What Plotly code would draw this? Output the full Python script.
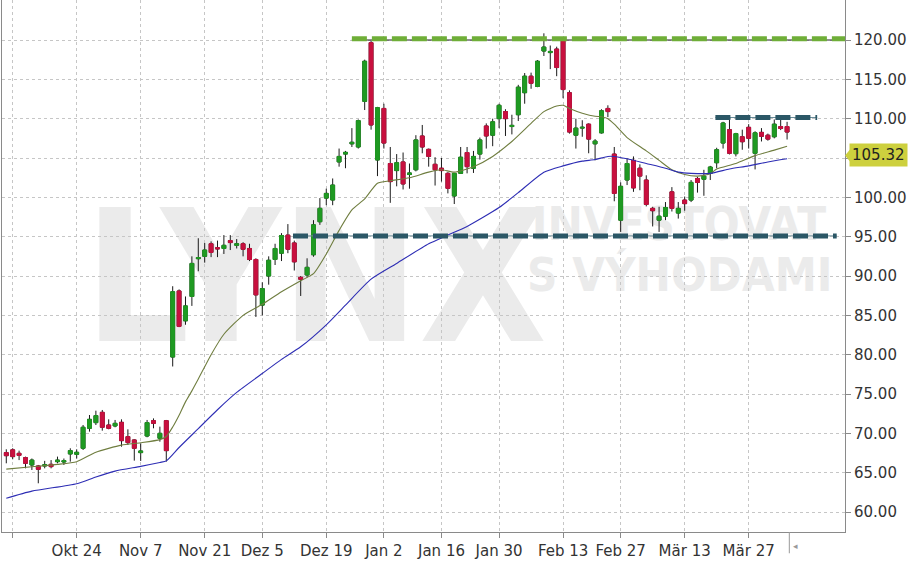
import plotly.graph_objects as go
import pandas as pd

# ---------------- data ----------------
HOLIDAYS = ['2022-11-24', '2022-12-26', '2023-01-02', '2023-01-16', '2023-02-20']
DATES = [d.strftime('%Y-%m-%d') for d in pd.bdate_range('2022-10-07', '2023-04-04')
         if d.strftime('%Y-%m-%d') not in HOLIDAYS]

OPEN = [67.55, 67.9, 67.46, 66.91, 65.98, 65.85, 65.85, 66.06, 66.4, 66.36,
        67.38, 67.33, 68.1, 70.64, 71.36, 72.67, 71.06, 70.94, 71.4, 69.58,
        69.16, 67.55, 69.66, 71.61, 69.37, 71.61, 79.7, 88.1, 84.3, 87.4,
        92.2, 92.5, 94.1, 93.6, 93.5, 94.5, 93.9, 94.1, 93.5, 92.1,
        86.3, 90.0, 92.1, 92.9, 95.2, 94.2, 89.83, 90.13, 92.7, 96.9,
        99.9, 99.66, 104.5, 105.5, 106.8, 106.4, 112.2, 119.66, 104.75, 111.3,
        104.3, 103.4, 104.5, 102.9, 103.5, 107.8, 106.1, 104.2, 103.7, 103.05,
        100.17, 103.05, 105.7, 103.7, 105.5, 109.07, 107.9, 110.0, 110.9, 109.0,
        110.5, 113.3, 115.4, 114.1, 118.6, 118.4, 118.85, 119.9, 113.3, 107.9,
        108.8, 109.3, 106.8, 108.2, 111.3, 105.5, 97.1, 102.2, 104.7, 103.7,
        102.2, 98.6, 97.1, 97.6, 100.7, 98.0, 99.65, 99.65, 102.4, 102.3,
        103.05, 104.4, 106.9, 108.6, 105.55, 107.7, 108.9, 105.6, 108.26, 107.9,
        107.7, 109.0, 109.0]
HIGH = [67.97, 68.1, 67.8, 67.04, 66.8, 65.98, 66.5, 66.6, 67.04, 66.8,
        68.1, 67.97, 71.06, 72.33, 72.88, 72.97, 71.78, 71.7, 71.78, 70.51,
        69.24, 68.73, 71.7, 71.9, 70.85, 71.7, 88.7, 88.3, 87.4, 92.5,
        94.8, 94.2, 94.4, 94.5, 95.2, 95.2, 94.7, 94.3, 94.1, 92.25,
        89.2, 92.5, 94.1, 95.45, 96.6, 94.5, 90.0, 92.25, 97.1, 99.9,
        101.1, 102.4, 106.2, 105.9, 108.8, 109.9, 117.5, 119.9, 111.5, 111.9,
        106.4, 105.5, 105.7, 104.3, 107.9, 109.2, 106.2, 105.1, 105.0, 103.2,
        103.1, 106.4, 106.4, 105.9, 107.6, 109.4, 110.0, 111.9, 111.2, 110.5,
        114.3, 115.8, 115.85, 117.45, 120.85, 119.3, 119.15, 120.2, 113.6, 110.0,
        109.8, 109.4, 107.4, 111.2, 111.7, 106.4, 101.9, 104.95, 105.2, 104.2,
        102.8, 98.8, 98.8, 99.4, 101.3, 99.4, 100.1, 102.2, 102.6, 103.5,
        104.0, 106.3, 109.6, 109.85, 108.2, 108.6, 109.3, 108.4, 108.8, 108.1,
        109.9, 109.9, 109.6]
LOW = [66.19, 66.7, 66.6, 65.55, 65.34, 63.65, 65.55, 65.55, 66.19, 65.98,
       66.4, 66.8, 67.88, 70.22, 71.06, 70.34, 70.51, 70.77, 68.3, 68.52,
       66.53, 66.49, 69.5, 70.64, 68.94, 66.4, 78.5, 83.5, 83.8, 86.2,
       90.6, 91.7, 92.4, 92.4, 92.8, 93.3, 93.5, 92.5, 91.9, 84.8,
       85.0, 88.9, 91.4, 91.9, 92.9, 90.7, 87.46, 89.83, 92.45, 96.5,
       99.0, 99.0, 103.9, 103.7, 106.4, 106.2, 111.1, 108.6, 102.7, 106.2,
       99.3, 101.4, 101.0, 101.1, 103.3, 105.6, 103.9, 101.5, 102.0, 100.5,
       99.15, 103.0, 103.05, 103.1, 104.8, 106.2, 106.5, 108.8, 107.8, 108.0,
       109.7, 111.9, 113.8, 114.0, 117.97, 116.3, 115.4, 112.6, 108.1, 106.2,
       107.7, 105.6, 104.7, 108.1, 110.2, 99.5, 95.6, 101.56, 100.7, 100.9,
       98.85, 96.3, 95.6, 97.1, 98.2, 97.3, 98.3, 99.4, 100.6, 100.2,
       102.2, 103.7, 106.2, 105.45, 105.2, 106.05, 106.2, 103.55, 107.1, 107.2,
       107.5, 108.55, 107.35]
CLOSE = [67.16, 67.04, 67.2, 66.19, 66.6, 65.43, 66.0, 65.77, 66.6, 66.53,
         67.8, 67.59, 70.77, 71.78, 72.25, 70.77, 70.64, 71.27, 69.07, 68.82,
         68.1, 67.76, 71.36, 71.27, 70.0, 67.8, 88.0, 83.6, 86.2, 91.6,
         92.35, 93.3, 93.0, 93.45, 93.9, 94.25, 94.1, 93.4, 92.1, 87.6,
         88.4, 92.0, 93.5, 95.15, 93.4, 91.8, 89.58, 91.1, 96.5, 98.6,
         100.5, 101.56, 105.2, 105.72, 107.0, 109.75, 117.3, 109.2, 111.4, 106.9,
         102.0, 104.4, 101.7, 103.1, 107.3, 106.4, 105.2, 103.5, 103.4, 101.14,
         103.05, 105.1, 103.9, 105.2, 107.3, 107.8, 109.6, 111.7, 110.0, 109.15,
         114.0, 115.4, 114.5, 117.3, 119.1, 118.55, 116.5, 113.7, 108.3, 108.8,
         108.9, 107.4, 107.15, 111.0, 110.9, 100.5, 101.4, 104.3, 101.2, 102.7,
         99.1, 98.3, 97.6, 98.7, 98.6, 98.6, 99.2, 101.9, 101.9, 102.7,
         103.85, 106.05, 109.45, 105.6, 108.1, 107.07, 107.5, 108.2, 107.75, 107.4,
         109.3, 108.75, 108.3]

# moving averages (trading-day number, value)
MA20_DAY = [0, 4, 8, 11, 14, 18, 21, 24, 25, 26, 27, 28, 29, 30, 32, 34, 37, 40, 43, 46,
            48, 50, 52, 54, 56, 58, 60, 63, 66, 68, 70, 73, 76, 79, 82, 84, 86, 87, 88, 90,
            92, 93, 94, 95, 97, 100, 102, 104, 106, 108, 110, 111, 114, 117, 120, 122]
MA20_VAL = [65.45, 65.75, 66.05, 66.4, 67.6, 68.5, 68.8, 69.2, 69.6, 70.8, 72.3, 74.0, 75.4,
            76.9, 80.0, 82.6, 85.0, 86.4, 88.0, 89.4, 90.3, 92.8, 95.8, 98.4, 99.8, 101.8,
            102.1, 102.5, 103.2, 103.5, 103.2, 103.9, 105.2, 107.1, 109.4, 110.9, 111.6,
            111.7, 111.3, 110.7, 110.3, 110.25, 110.0, 109.3, 107.6, 105.9, 104.7, 103.5,
            102.9, 102.7, 103.0, 103.6, 104.3, 105.3, 106.0, 106.5]
MA50_DAY = [0, 4, 11, 14, 17, 21, 24, 25, 27, 30, 33, 36, 40, 43, 46, 50, 53, 57, 61, 66,
            69, 72, 77, 80, 84, 87, 90, 92, 94, 95, 97, 100, 103, 105, 107, 110, 113, 116,
            119, 122]
MA50_VAL = [61.75, 62.65, 63.6, 64.45, 65.2, 65.8, 66.3, 66.5, 68.2, 70.6, 73.0, 75.2,
            77.6, 79.4, 81.0, 83.8, 86.3, 89.6, 91.6, 94.1, 95.2, 96.3, 98.7, 100.6, 103.2,
            104.0, 104.6, 104.8, 105.2, 105.2, 104.9, 104.3, 103.7, 103.2, 103.05, 103.05,
            103.6, 104.0, 104.5, 104.9]

TICK_DATES = ['2022-10-10', '2022-10-24', '2022-11-07', '2022-11-21', '2022-12-05',
              '2022-12-19', '2023-01-03', '2023-01-17', '2023-01-30', '2023-02-13',
              '2023-02-27', '2023-03-13', '2023-03-27']
TICK_TEXT = ['', 'Okt 24', 'Nov 7', 'Nov 21', 'Dez 5', 'Dez 19', 'Jan 2', 'Jan 16',
             'Jan 30', 'Feb 13', 'Feb 27', 'Mär 13', 'Mär 27']
Y_TICKS = [60, 65, 70, 75, 80, 85, 90, 95, 100, 105, 110, 115, 120]

# drawn support / resistance levels (value, from trading day, to trading day)
LEVEL_VALUES = [120.15, 95.1, 110.15]
LEVEL_FROM = [54.0, 44.8, 110.8]
LEVEL_TO = [None, 129.75, 126.7]
LEVEL_KIND = ['green', 'teal', 'teal']
LAST_PRICE = 105.32

# ---------------- styling ----------------
GREEN = '#1f9a22'
RED = '#c8103f'
WICK = '#1a1a1a'
OLIVE = '#6f7d3f'
BLUE = '#2d2db4'
LVL_GREEN = '#6fae38'
LVL_TEAL = '#2b5766'
GRID = '#c6c6c6'
AXIS = '#8a8a8a'
TAG = '#cdd03e'
X_RANGE = [-0.67, 131.05]
Y_RANGE = [57.458, 125.085]
FONT = 'DejaVu Sans, Verdana, sans-serif'
WM_FONT = 'Liberation Sans Narrow, Arial Narrow, DejaVu Sans Condensed, sans-serif'

# the price tag hides the 105.00 label, as in the original
Y_TEXT = ['' if abs(v - LAST_PRICE) < 2 else f'{v:.2f}' for v in Y_TICKS]

body_hi = [max(o, c) for o, c in zip(OPEN, CLOSE)]
body_lo = [min(o, c) for o, c in zip(OPEN, CLOSE)]

fig = go.Figure()
# wicks (black)
fig.add_trace(go.Candlestick(
    x=DATES, open=OPEN, high=HIGH, low=LOW, close=CLOSE,
    increasing=dict(line=dict(color=WICK, width=1), fillcolor=WICK),
    decreasing=dict(line=dict(color=WICK, width=1), fillcolor=WICK),
    showlegend=False, hoverinfo='skip'))
# coloured bodies
fig.add_trace(go.Candlestick(
    x=DATES, open=OPEN, high=body_hi, low=body_lo, close=CLOSE,
    increasing=dict(line=dict(color=GREEN, width=1), fillcolor=GREEN),
    decreasing=dict(line=dict(color=RED, width=1), fillcolor=RED),
    showlegend=False, hoverinfo='skip'))
fig.add_trace(go.Scatter(x=[DATES[i] for i in MA20_DAY], y=MA20_VAL, mode='lines',
                         line=dict(color=OLIVE, width=1.1, shape='spline', smoothing=0.6),
                         showlegend=False, hoverinfo='skip'))
fig.add_trace(go.Scatter(x=[DATES[i] for i in MA50_DAY], y=MA50_VAL, mode='lines',
                         line=dict(color=BLUE, width=1.1, shape='spline', smoothing=0.6),
                         showlegend=False, hoverinfo='skip'))

shapes = []
# watermark
def wm(text, cx, cy, size):
    return dict(type='rect', xref='paper', yref='paper', x0=cx - 0.2, x1=cx + 0.2,
                y0=cy - 0.1, y1=cy + 0.1, line=dict(width=0), fillcolor='rgba(0,0,0,0)',
                layer='below',
                label=dict(text=text, textposition='middle center',
                           font=dict(family=WM_FONT, size=size, color='#ebebeb', weight='bold')))
shapes.append(wm('LYNX', 0.372, 0.503, 184))
shapes.append(wm('INVESTOVAT', 0.803, 0.586, 47))
shapes.append(wm('S VÝHODAMI', 0.804, 0.49, 47))

for val, x0, x1, kind in zip(LEVEL_VALUES, LEVEL_FROM, LEVEL_TO, LEVEL_KIND):
    end = X_RANGE[1] if x1 is None else x1
    if kind == 'green':
        shapes.append(dict(type='line', xref='x', yref='y', x0=x0, x1=end, y0=val - 0.15,
                           y1=val - 0.15, line=dict(color='#222222', width=1)))
        shapes.append(dict(type='line', xref='x', yref='y', x0=x0, x1=end, y0=val, y1=val,
                           line=dict(color=LVL_GREEN, width=5, dash='15px,5px')))
    else:
        shapes.append(dict(type='line', xref='x', yref='y', x0=x0, x1=end, y0=val, y1=val,
                           line=dict(color='#6a8c98', width=1)))
        shapes.append(dict(type='line', xref='x', yref='y', x0=x0, x1=end, y0=val, y1=val,
                           line=dict(color=LVL_TEAL, width=5, dash='15px,5px')))

# last price tag pointer
shapes.append(dict(type='path', xref='paper', yref='y', xsizemode='pixel', ysizemode='pixel',
                   xanchor=1, yanchor=LAST_PRICE, path='M 0 0 L 5 6 L 5 -6 Z',
                   fillcolor=TAG, line=dict(width=0)))
# last candle marker below axis
last_day = len(DATES) - 1 + 0.35
shapes.append(dict(type='line', xref='x', yref='paper', x0=last_day, x1=last_day,
                   y0=0, y1=-0.04, line=dict(color='#9a9a9a', width=1)))

annotations = [
    dict(xref='paper', yref='y', x=1, y=LAST_PRICE, xanchor='left', yanchor='middle',
         xshift=4, text=f'{LAST_PRICE:.2f}', showarrow=False, bgcolor=TAG,
         borderpad=2, font=dict(family=FONT, size=15, color='#222222')),
    dict(xref='x', yref='paper', x=last_day, y=-0.027, xanchor='left', yanchor='middle',
         xshift=2, text='◂', showarrow=False, font=dict(family=FONT, size=9, color='#9a9a9a')),
]

fig.update_layout(
    width=910, height=561,
    margin=dict(l=2, r=65, t=0, b=29),
    paper_bgcolor='white', plot_bgcolor='white',
    showlegend=False, boxgap=0.4, boxgroupgap=0,
    shapes=shapes, annotations=annotations,
    xaxis=dict(type='category', range=X_RANGE, tickvals=TICK_DATES, ticktext=TICK_TEXT,
               showgrid=True, gridcolor=GRID, griddash='3px,3px', gridwidth=1,
               ticks='outside', ticklen=5, tickcolor=AXIS, showline=True, linecolor=AXIS,
               rangeslider=dict(visible=False), zeroline=False,
               tickfont=dict(family=FONT, size=15, color='#333333')),
    yaxis=dict(side='right', range=Y_RANGE, tickvals=Y_TICKS, ticktext=Y_TEXT,
               showgrid=True, gridcolor=GRID, griddash='3px,3px', gridwidth=1,
               ticks='outside', ticklen=5, tickcolor=AXIS, showline=True, linecolor=AXIS,
               mirror=True, zeroline=False,
               tickfont=dict(family=FONT, size=15, color='#333333')),
)

fig.write_html('out.html', config={'displayModeBar': False},
               post_script="document.body.style.margin='0px';document.body.style.padding='0px';")
